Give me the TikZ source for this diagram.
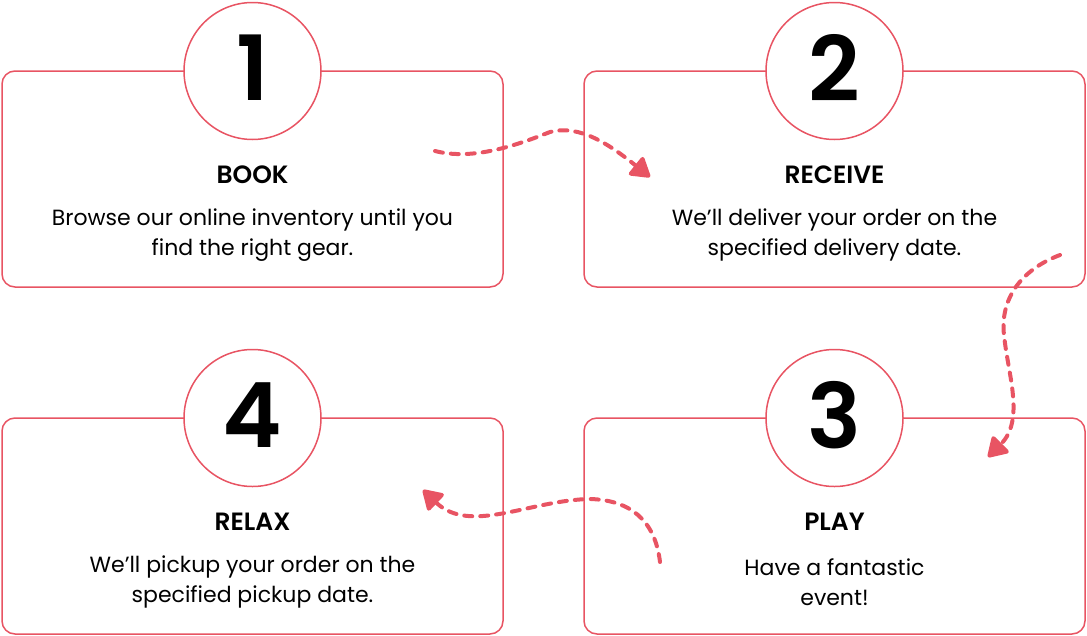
\documentclass[tikz,border=0pt]{standalone}
\usepackage{fontspec}
\setmainfont{Poppins}[BoldFont={Poppins SemiBold}]
\usetikzlibrary{arrows.meta,positioning}
\definecolor{stepred}{RGB}{232,84,99}
\tikzset{
  stepbox/.style={draw=stepred, line width=1.5pt, rounded corners=13pt, minimum width=501pt, minimum height=216pt, inner sep=0pt},
  numcirc/.style={circle, draw=stepred, line width=1.5pt, fill=white, minimum size=137pt, inner sep=0pt},
  stepnum/.style={inner sep=0pt, font=\fontsize{90}{90}\selectfont\bfseries},
  steptitle/.style={inner sep=0pt, font=\fontsize{25}{28}\selectfont\bfseries},
  steptext/.style={inner sep=0pt, align=center, font=\fontsize{22}{30}\selectfont},
  flow/.style={draw=stepred, line width=4pt, dash pattern=on 8pt off 8pt, line cap=round, -{Triangle[length=21pt,width=25pt,round]}}
}
\begin{document}
\begin{tikzpicture}[x=1pt,y=-1pt]
    \useasboundingbox (0,0) rectangle (1087,635);

    % Dashed arrows from one step to the next
    \coordinate (a1s) at (435,151);
    \coordinate (a1e) at (650,177);
    \coordinate (a2s) at (1060,255);
    \coordinate (a2e) at (988,457);
    \coordinate (a3s) at (660,562);
    \coordinate (a3e) at (423,490);
    \draw[flow] (a1s) .. controls (470,160) and (510,148) .. (550,132) .. controls (580,124) and (610,145) .. (a1e);
    \draw[flow] (a2s) .. controls (1020,270) and (1000,300) .. (1004,335) .. controls (1008,375) and (1025,420) .. (a2e);
    \draw[flow] (a3s) .. controls (655,520) and (630,500) .. (590,499) .. controls (530,500) and (470,535) .. (a3e);

    % Four step cards: box, number circle, title, text
    \foreach \px/\py/\num/\name/\desc in {
        252.5/71/1/BOOK/{Browse our online inventory until you\\find the right gear.},
        834.5/71/2/RECEIVE/{We’ll deliver your order on the\\specified delivery date.},
        834.5/418/3/PLAY/{Have a fantastic\\event!},
        252.5/418/4/RELAX/{We’ll pickup your order on the\\specified pickup date.}} {
      \node[stepbox] (box\num) at (\px,{\py+108}) {};
      \node[numcirc] (circ\num) at (\px,\py) {};
      \node[stepnum] (digit\num) at (\px,{\py-3}) {\num};
      \node[steptitle] (title\num) at (\px,{\py+104}) {\name};
      \node[steptext] (text\num) at (\px,{\py+164}) {\desc};
    }
\end{tikzpicture}
\end{document}
